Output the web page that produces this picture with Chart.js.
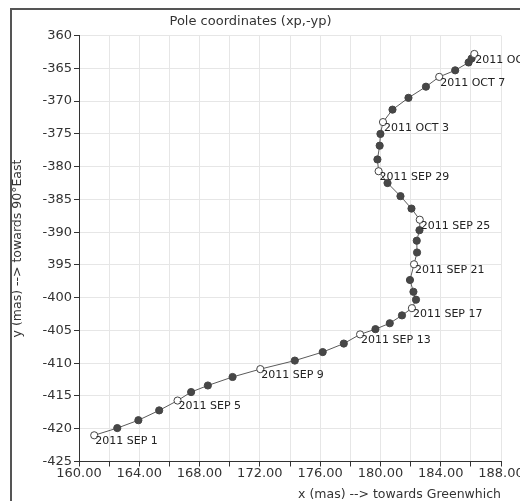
<!DOCTYPE html>
<html>
<head>
<meta charset="utf-8">
<script src="https://cdn.jsdelivr.net/npm/chart.js@4.4.1/dist/chart.umd.min.js"></script>
<style>
body { margin: 0; background: #fff; overflow: hidden; }
#wrap { position: relative; width: 520px; height: 501px; overflow: hidden; }
#frame {
  position: absolute; left: 10px; top: 8px; width: 600px; height: 600px;
  border-left: 2px solid #555; border-top: 2px solid #555;
}
canvas { position: absolute; left: 0; top: 0; }
</style>
</head>
<body>
<div id="wrap">
  <canvas id="pole" width="534" height="501"></canvas>
  <div id="frame"></div>
</div>
<script>
// pole coordinates, one point per day, 2011 SEP 1 .. OCT 11
var dayNames = [
  "2011 SEP 1","2011 SEP 2","2011 SEP 3","2011 SEP 4","2011 SEP 5","2011 SEP 6","2011 SEP 7","2011 SEP 8",
  "2011 SEP 9","2011 SEP 10","2011 SEP 11","2011 SEP 12","2011 SEP 13","2011 SEP 14","2011 SEP 15","2011 SEP 16",
  "2011 SEP 17","2011 SEP 18","2011 SEP 19","2011 SEP 20","2011 SEP 21","2011 SEP 22","2011 SEP 23","2011 SEP 24",
  "2011 SEP 25","2011 SEP 26","2011 SEP 27","2011 SEP 28","2011 SEP 29","2011 SEP 30","2011 OCT 1","2011 OCT 2",
  "2011 OCT 3","2011 OCT 4","2011 OCT 5","2011 OCT 6","2011 OCT 7","2011 OCT 8","2011 OCT 9","2011 OCT 10",
  "2011 OCT 11"
];
var xp = [
  161.01, 162.54, 163.94, 165.32, 166.54, 167.44, 168.55, 170.19,
  172.03, 174.32, 176.17, 177.57, 178.65, 179.67, 180.62, 181.43,
  182.09, 182.36, 182.19, 181.96, 182.23, 182.43, 182.41, 182.59,
  182.61, 182.06, 181.33, 180.47, 179.88, 179.80, 179.95, 180.00,
  180.17, 180.80, 181.86, 183.02, 183.90, 184.96, 185.85, 186.05,
  186.23
];
var yp = [
  -421.0, -419.9, -418.7, -417.2, -415.7, -414.4, -413.4, -412.1,
  -410.9, -409.6, -408.3, -407.0, -405.6, -404.8, -403.9, -402.7,
  -401.6, -400.3, -399.1, -397.3, -394.9, -393.1, -391.3, -389.7,
  -388.1, -386.4, -384.5, -382.5, -380.7, -378.9, -376.8, -375.0,
  -373.2, -371.3, -369.5, -367.8, -366.3, -365.3, -364.1, -363.5,
  -362.8
];
// every 4th day gets an open marker and a label
var labelled = [0, 4, 8, 12, 16, 20, 24, 28, 32, 36, 40];

var xTickValues = [160,162,164,166,168,170,172,174,176,178,180,182,184,186,188];
var xTickLabels = ["160.00","","164.00","","168.00","","172.00","","176.00","","180.00","","184.00","","188.00"];
var yTickValues = [-360,-365,-370,-375,-380,-385,-390,-395,-400,-405,-410,-415,-420,-425];
var yTickLabels = ["360","-365","-370","-375","-380","-385","-390","395","-400","-405","-410","-415","-420","-425"];

var pts = [];
var fills = [];
for (var i = 0; i < xp.length; i++) {
    pts.push({x: xp[i], y: yp[i]});
    fills.push(labelled.includes(i) ? "#ffffff" : "#474747");
}

var FONT = "'DejaVu Sans', Verdana, sans-serif";

// day labels next to the open markers
var dayLabels = {
    id: "dayLabels",
    afterDatasetsDraw: function(chart) {
        var ctx = chart.ctx;
        var meta = chart.getDatasetMeta(0);
        ctx.save();
        ctx.font = "11px " + FONT;
        ctx.fillStyle = "#222";
        ctx.textAlign = "left";
        ctx.textBaseline = "middle";
        labelled.forEach(function(i) {
            var p = meta.data[i];
            ctx.fillText(dayNames[i], p.x + 1, p.y + 6);
        });
        ctx.restore();
    }
};

new Chart("pole", {
    type: "scatter",
    data: {
        datasets: [{
            data: pts,
            showLine: true,
            borderColor: "#5a5a5a",
            borderWidth: 1,
            pointRadius: 3.6,
            pointHoverRadius: 3.6,
            pointBorderWidth: 1,
            pointBorderColor: "#444",
            pointBackgroundColor: fills
        }]
    },
    plugins: [dayLabels],
    options: {
        responsive: false,
        animation: false,
        devicePixelRatio: 1,
        layout: {padding: {left: 0, right: 33, top: 0, bottom: 0}},
        plugins: {
            legend: {display: false},
            tooltip: {enabled: false},
            title: {
                display: true,
                text: "Pole coordinates (xp,-yp)",
                color: "#333",
                font: {family: FONT, size: 13, weight: "normal", lineHeight: 1.2},
                padding: {top: 14, bottom: 6}
            }
        },
        scales: {
            x: {
                type: "linear",
                min: 160, max: 188,
                afterBuildTicks: function(s) { s.ticks = xTickValues.map(function(v) { return {value: v}; }); },
                afterFit: function(s) { s.height = 39.5; },
                grid: {color: "#e6e6e6", tickColor: "#333", tickLength: 5},
                border: {color: "#333", width: 1},
                ticks: {
                    color: "#333",
                    padding: 1,
                    maxRotation: 0,
                    autoSkip: false,
                    font: {family: FONT, size: 13, lineHeight: 1},
                    callback: function(v) {
                        var k = xTickValues.indexOf(v);
                        return k < 0 ? "" : xTickLabels[k];
                    }
                },
                title: {
                    display: true,
                    align: "end",
                    text: "x (mas) --> towards Greenwhich",
                    color: "#333",
                    font: {family: FONT, size: 12.5, lineHeight: 1},
                    padding: {top: 0, bottom: 0}
                }
            },
            y: {
                type: "linear",
                min: -425, max: -360,
                afterBuildTicks: function(s) { s.ticks = yTickValues.slice().reverse().map(function(v) { return {value: v}; }); },
                afterFit: function(s) { s.width = 79; },
                grid: {color: "#e6e6e6", tickColor: "#333", tickLength: 5},
                border: {color: "#333", width: 1},
                ticks: {
                    color: "#333",
                    padding: 2,
                    autoSkip: false,
                    font: {family: FONT, size: 13},
                    callback: function(v) {
                        var k = yTickValues.indexOf(v);
                        return k < 0 ? "" : yTickLabels[k];
                    }
                },
                title: {
                    display: true,
                    text: "y (mas) --> towards 90°East",
                    color: "#333",
                    font: {family: FONT, size: 12.5, lineHeight: 1},
                    padding: {top: 11, bottom: 0}
                }
            }
        }
    }
});
</script>
</body>
</html>
